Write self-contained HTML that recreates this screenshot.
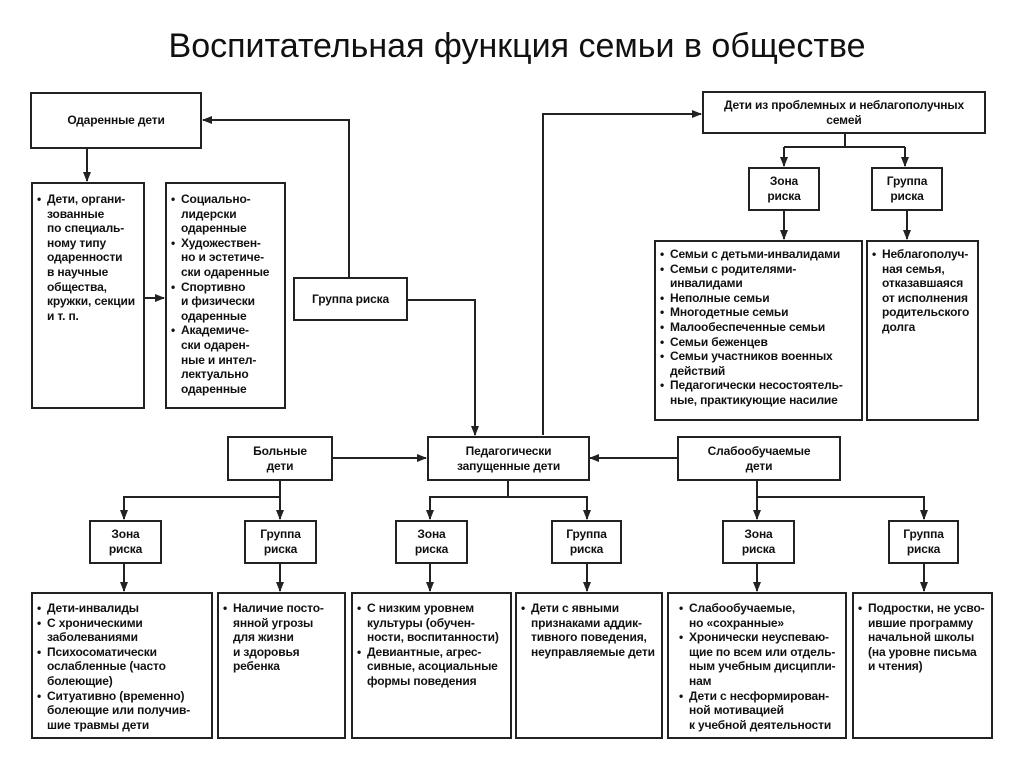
<!DOCTYPE html>
<html><head><meta charset="utf-8">
<style>
body{margin:0;background:#fff;}
#c{position:relative;width:1024px;height:767px;overflow:hidden;font-family:"Liberation Sans",Arial,sans-serif;color:#111;}
.t{position:absolute;top:27px;left:0;width:1034px;text-align:center;font-size:34px;}
.b{position:absolute;border:2px solid #222;box-sizing:border-box;background:#fff;font-size:12px;line-height:14.6px;font-weight:bold;letter-spacing:-0.15px;}
.cen{display:flex;align-items:center;justify-content:center;text-align:center;}
.l{padding:7px 2px 0 4px;white-space:nowrap;}
.i{position:relative;padding-left:10px;}
.i:before{content:"•";position:absolute;left:0;top:0;}
svg{position:absolute;left:0;top:0;}
</style></head><body><div id="c">
<div class="t">Воспитательная функция семьи в обществе</div>
<svg width="1024" height="767">
<defs><marker id="a" markerWidth="10" markerHeight="10" refX="9" refY="4" orient="auto" markerUnits="userSpaceOnUse"><path d="M0,0 L10,4 L0,8 z" fill="#222"/></marker></defs>
<g stroke="#222" stroke-width="2" fill="none">
<path d="M87 148 V181" marker-end="url(#a)"/>
<path d="M144 298 H164" marker-end="url(#a)"/>
<path d="M349 277 V120 H203" marker-end="url(#a)"/>
<path d="M407 300 H475 V435" marker-end="url(#a)"/>
<path d="M543 435 V114 H701" marker-end="url(#a)"/>
<path d="M845 133 V147 M784 147 H905 M784 147 V166 M905 147 V166" />
<path d="M784 147 V166" marker-end="url(#a)"/>
<path d="M905 147 V166" marker-end="url(#a)"/>
<path d="M784 210 V239" marker-end="url(#a)"/>
<path d="M907 211 V239" marker-end="url(#a)"/>
<path d="M332 458 H426" marker-end="url(#a)"/>
<path d="M677 458 H590" marker-end="url(#a)"/>
<path d="M280 480 V497 H124 V519" marker-end="url(#a)"/>
<path d="M280 497 V519" marker-end="url(#a)"/>
<path d="M508 480 V497 H430 V519" marker-end="url(#a)"/>
<path d="M508 497 H587 V519" marker-end="url(#a)"/>
<path d="M757 480 V497 V519" marker-end="url(#a)"/>
<path d="M757 497 H924 V519" marker-end="url(#a)"/>
<path d="M124 563 V591" marker-end="url(#a)"/>
<path d="M280 563 V591" marker-end="url(#a)"/>
<path d="M430 563 V591" marker-end="url(#a)"/>
<path d="M587 563 V591" marker-end="url(#a)"/>
<path d="M757 563 V591" marker-end="url(#a)"/>
<path d="M924 563 V591" marker-end="url(#a)"/>
</g></svg>

<div class="b cen" style="left:30px;top:92px;width:172px;height:57px;">Одаренные дети</div>
<div class="b l" style="left:31px;top:182px;width:114px;height:227px;padding-top:8px;"><div class="i">Дети, органи-<br>зованные<br>по специаль-<br>ному типу<br>одаренности<br>в научные<br>общества,<br>кружки, секции<br>и т. п.</div></div>
<div class="b l" style="left:165px;top:182px;width:121px;height:227px;padding-top:8px;"><div class="i">Социально-<br>лидерски<br>одаренные</div><div class="i">Художествен-<br>но и эстетиче-<br>ски одаренные</div><div class="i">Спортивно<br>и физически<br>одаренные</div><div class="i">Академиче-<br>ски одарен-<br>ные и интел-<br>лектуально<br>одаренные</div></div>
<div class="b cen" style="left:293px;top:277px;width:115px;height:44px;">Группа риска</div>

<div class="b cen" style="left:702px;top:91px;width:284px;height:43px;">Дети из проблемных и неблагополучных<br>семей</div>
<div class="b cen" style="left:748px;top:167px;width:72px;height:44px;">Зона<br>риска</div>
<div class="b cen" style="left:871px;top:167px;width:72px;height:44px;">Группа<br>риска</div>
<div class="b l" style="left:654px;top:240px;width:209px;height:181px;padding-top:5px;"><div class="i">Семьи с детьми-инвалидами</div><div class="i">Семьи с родителями-<br>инвалидами</div><div class="i">Неполные семьи</div><div class="i">Многодетные семьи</div><div class="i">Малообеспеченные семьи</div><div class="i">Семьи беженцев</div><div class="i">Семьи участников военных<br>действий</div><div class="i">Педагогически несостоятель-<br>ные, практикующие насилие</div></div>
<div class="b l" style="left:866px;top:240px;width:113px;height:181px;padding-top:5px;"><div class="i">Неблагополуч-<br>ная семья,<br>отказавшаяся<br>от исполнения<br>родительского<br>долга</div></div>

<div class="b cen" style="left:227px;top:436px;width:106px;height:45px;">Больные<br>дети</div>
<div class="b cen" style="left:427px;top:436px;width:163px;height:45px;">Педагогически<br>запущенные дети</div>
<div class="b cen" style="left:677px;top:436px;width:164px;height:45px;">Слабообучаемые<br>дети</div>

<div class="b cen" style="left:89px;top:520px;width:73px;height:44px;">Зона<br>риска</div>
<div class="b cen" style="left:244px;top:520px;width:73px;height:44px;">Группа<br>риска</div>
<div class="b cen" style="left:395px;top:520px;width:73px;height:44px;">Зона<br>риска</div>
<div class="b cen" style="left:551px;top:520px;width:71px;height:44px;">Группа<br>риска</div>
<div class="b cen" style="left:722px;top:520px;width:73px;height:44px;">Зона<br>риска</div>
<div class="b cen" style="left:888px;top:520px;width:71px;height:44px;">Группа<br>риска</div>

<div class="b l" style="left:31px;top:592px;width:182px;height:147px;"><div class="i">Дети-инвалиды</div><div class="i">С хроническими<br>заболеваниями</div><div class="i">Психосоматически<br>ослабленные (часто<br>болеющие)</div><div class="i">Ситуативно (временно)<br>болеющие или получив-<br>шие травмы дети</div></div>
<div class="b l" style="left:217px;top:592px;width:129px;height:147px;"><div class="i">Наличие посто-<br>янной угрозы<br>для жизни<br>и здоровья<br>ребенка</div></div>
<div class="b l" style="left:351px;top:592px;width:161px;height:147px;"><div class="i">С низким уровнем<br>культуры (обучен-<br>ности, воспитанности)</div><div class="i">Девиантные, агрес-<br>сивные, асоциальные<br>формы поведения</div></div>
<div class="b l" style="left:515px;top:592px;width:148px;height:147px;"><div class="i">Дети с явными<br>признаками аддик-<br>тивного поведения,<br>неуправляемые дети</div></div>
<div class="b l" style="left:667px;top:592px;width:180px;height:147px;padding-left:10px;"><div class="i">Слабообучаемые,<br>но «сохранные»</div><div class="i">Хронически неуспеваю-<br>щие по всем или отдель-<br>ным учебным дисципли-<br>нам</div><div class="i">Дети с несформирован-<br>ной мотивацией<br>к учебной деятельности</div></div>
<div class="b l" style="left:852px;top:592px;width:141px;height:147px;"><div class="i">Подростки, не усво-<br>ившие программу<br>начальной школы<br>(на уровне письма<br>и чтения)</div></div>
</div></body></html>
